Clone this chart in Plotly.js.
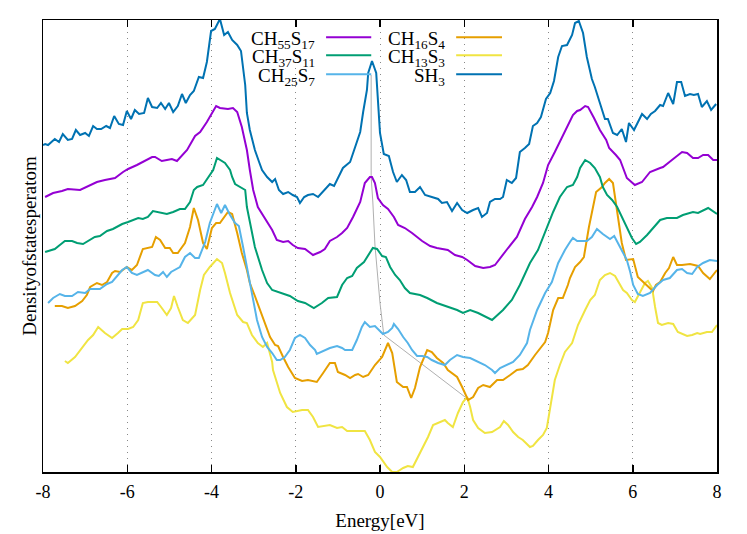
<!DOCTYPE html>
<html>
<head>
<meta charset="utf-8">
<script src="https://cdn.plot.ly/plotly-3.0.1.min.js"></script>
<style>html,body{margin:0;padding:0;background:#fff;}#chart{width:747px;height:534px;}</style>
</head>
<body>
<div id="chart"></div>
<script>
// ---- Data (energy in eV, density of states in arbitrary offset units) ----
const sh3_E = [-8.00,-7.95,-7.88,-7.72,-7.62,-7.53,-7.41,-7.31,-7.22,-7.12,-7.00,-6.91,-6.81,-6.72,-6.62,-6.50,-6.41,-6.31,-6.20,-6.10,-6.01,-5.91,-5.82,-5.72,-5.60,-5.51,-5.41,-5.29,-5.20,-5.10,-5.01,-4.91,-4.80,-4.70,-4.61,-4.51,-4.42,-4.30,-4.20,-4.11,-4.01,-3.92,-3.80,-3.70,-3.61,-3.51,-3.39,-3.30,-3.20,-3.16,-3.09,-2.97,-2.87,-2.80,-2.68,-2.56,-2.49,-2.40,-2.30,-2.18,-2.07,-1.97,-1.90,-1.80,-1.71,-1.59,-1.47,-1.38,-1.28,-1.19,-1.09,-1.00,-0.88,-0.71,-0.59,-0.47,-0.40,-0.31,-0.28,-0.19,-0.09,-0.05,0.00,0.09,0.21,0.31,0.40,0.52,0.62,0.71,0.83,0.95,1.07,1.23,1.38,1.47,1.59,1.71,1.83,1.95,2.07,2.21,2.33,2.42,2.54,2.61,2.73,2.85,2.92,3.01,3.13,3.23,3.32,3.44,3.54,3.63,3.73,3.82,3.94,4.04,4.13,4.23,4.32,4.44,4.56,4.63,4.68,4.72,4.82,4.91,5.03,5.10,5.22,5.34,5.41,5.53,5.63,5.74,5.84,5.91,6.03,6.12,6.22,6.34,6.43,6.53,6.65,6.72,6.84,6.96,7.05,7.15,7.24,7.36,7.45,7.55,7.64,7.76,7.86,7.98];
const sh3_D = [3.27,3.28,3.27,3.33,3.30,3.38,3.32,3.33,3.42,3.37,3.39,3.36,3.46,3.43,3.43,3.46,3.44,3.56,3.48,3.47,3.61,3.53,3.62,3.58,3.59,3.74,3.65,3.64,3.69,3.63,3.69,3.60,3.66,3.78,3.69,3.77,3.81,3.95,3.94,4.10,4.41,4.43,4.53,4.37,4.40,4.32,4.27,4.21,3.87,3.59,3.42,3.22,3.10,3.02,2.95,2.90,2.93,2.82,2.78,2.80,2.77,2.75,2.69,2.75,2.77,2.78,2.75,2.79,2.83,2.88,2.86,2.94,3.04,3.10,3.24,3.40,3.60,3.82,3.99,4.11,3.99,3.75,3.39,3.18,3.16,3.00,2.90,2.97,2.92,2.80,2.80,2.85,2.77,2.75,2.73,2.69,2.70,2.61,2.69,2.62,2.59,2.62,2.64,2.55,2.59,2.70,2.73,2.73,2.75,2.92,2.89,2.94,3.20,3.24,3.28,3.46,3.49,3.55,3.73,3.79,3.91,4.15,4.26,4.27,4.37,4.49,4.50,4.51,4.39,4.15,3.93,3.85,3.69,3.53,3.53,3.39,3.37,3.43,3.30,3.49,3.42,3.49,3.58,3.53,3.58,3.61,3.67,3.66,3.79,3.68,3.90,3.90,3.76,3.78,3.77,3.78,3.65,3.71,3.62,3.68];

const ch55_E = [-7.95,-7.76,-7.55,-7.41,-7.12,-6.88,-6.72,-6.53,-6.29,-6.10,-5.98,-5.77,-5.63,-5.41,-5.34,-5.18,-5.06,-4.94,-4.82,-4.70,-4.58,-4.39,-4.27,-4.11,-3.99,-3.89,-3.80,-3.61,-3.49,-3.39,-3.28,-3.16,-3.09,-3.01,-2.90,-2.73,-2.56,-2.45,-2.30,-2.18,-2.07,-1.95,-1.78,-1.59,-1.42,-1.31,-1.19,-1.02,-0.90,-0.78,-0.64,-0.47,-0.36,-0.24,-0.19,-0.12,-0.05,0.07,0.19,0.33,0.43,0.59,0.76,1.00,1.19,1.35,1.50,1.61,1.78,1.95,2.07,2.26,2.45,2.61,2.73,2.85,3.04,3.25,3.44,3.61,3.73,3.87,3.99,4.15,4.27,4.44,4.58,4.68,4.75,4.87,4.94,5.08,5.22,5.37,5.44,5.60,5.70,5.86,6.05,6.22,6.41,6.65,6.72,6.93,7.17,7.29,7.43,7.55,7.67,7.79,7.91,8.00];
const ch55_D = [2.75,2.79,2.81,2.83,2.82,2.87,2.90,2.92,2.94,3.00,3.03,3.07,3.10,3.15,3.15,3.11,3.12,3.13,3.11,3.17,3.22,3.36,3.40,3.50,3.59,3.66,3.64,3.63,3.64,3.60,3.45,3.22,3.02,2.82,2.65,2.54,2.42,2.32,2.30,2.31,2.27,2.24,2.23,2.17,2.20,2.23,2.31,2.35,2.39,2.44,2.55,2.70,2.89,2.95,2.95,2.89,2.74,2.67,2.63,2.55,2.47,2.44,2.39,2.31,2.26,2.24,2.23,2.22,2.17,2.15,2.12,2.06,2.04,2.05,2.07,2.14,2.24,2.35,2.53,2.65,2.75,2.89,3.07,3.20,3.30,3.44,3.57,3.61,3.62,3.66,3.65,3.54,3.42,3.32,3.24,3.17,3.12,2.94,2.87,2.90,3.00,3.04,3.05,3.12,3.20,3.19,3.14,3.14,3.17,3.17,3.12,3.12];

const ch37_E = [-7.95,-7.72,-7.60,-7.48,-7.31,-7.19,-7.05,-6.93,-6.77,-6.65,-6.48,-6.34,-6.12,-5.98,-5.86,-5.74,-5.63,-5.51,-5.39,-5.27,-5.06,-4.91,-4.75,-4.63,-4.51,-4.42,-4.34,-4.20,-4.08,-3.96,-3.87,-3.68,-3.56,-3.51,-3.44,-3.32,-3.20,-3.16,-3.09,-2.97,-2.80,-2.68,-2.56,-2.37,-2.14,-1.95,-1.78,-1.57,-1.38,-1.23,-1.02,-0.90,-0.78,-0.66,-0.55,-0.38,-0.28,-0.17,-0.07,0.05,0.14,0.24,0.36,0.47,0.59,0.71,0.95,1.12,1.35,1.61,1.83,1.97,2.14,2.33,2.54,2.66,2.92,3.13,3.32,3.56,3.75,3.96,4.11,4.27,4.44,4.58,4.68,4.75,4.87,4.99,5.10,5.22,5.29,5.39,5.51,5.63,5.74,5.86,5.98,6.08,6.17,6.34,6.48,6.65,6.81,7.05,7.19,7.43,7.55,7.72,7.79,8.00];
const ch37_D = [2.20,2.23,2.27,2.31,2.31,2.29,2.28,2.31,2.35,2.36,2.41,2.43,2.48,2.50,2.52,2.54,2.53,2.55,2.61,2.60,2.58,2.60,2.63,2.63,2.70,2.82,2.85,2.87,2.94,3.02,3.14,3.09,3.02,2.95,2.88,2.85,2.82,2.65,2.49,2.25,2.02,1.89,1.82,1.79,1.76,1.71,1.69,1.64,1.69,1.74,1.75,1.87,1.94,1.96,2.04,2.10,2.17,2.24,2.23,2.16,2.15,2.05,1.97,1.92,1.84,1.79,1.77,1.74,1.69,1.65,1.62,1.59,1.62,1.59,1.55,1.52,1.62,1.72,1.87,2.09,2.22,2.45,2.60,2.75,2.85,2.87,2.95,3.04,3.12,3.09,3.04,2.95,2.85,2.77,2.72,2.65,2.55,2.45,2.34,2.28,2.30,2.37,2.44,2.52,2.54,2.54,2.57,2.60,2.59,2.63,2.64,2.58];

const ch25_E = [-7.88,-7.76,-7.60,-7.48,-7.31,-7.17,-7.00,-6.88,-6.65,-6.48,-6.36,-6.24,-6.12,-6.01,-5.89,-5.77,-5.65,-5.51,-5.34,-5.25,-5.15,-5.06,-4.96,-4.87,-4.75,-4.63,-4.51,-4.39,-4.30,-4.15,-4.04,-3.87,-3.77,-3.68,-3.56,-3.44,-3.35,-3.25,-3.13,-3.01,-2.92,-2.80,-2.68,-2.56,-2.45,-2.37,-2.26,-2.14,-2.02,-1.90,-1.78,-1.66,-1.54,-1.50,-1.35,-1.19,-1.02,-0.90,-0.83,-0.66,-0.55,-0.43,-0.36,-0.24,-0.12,-0.02,0.07,0.19,0.29,0.33,0.43,0.55,0.66,0.76,0.88,1.00,1.12,1.23,1.38,1.54,1.66,1.83,1.97,2.14,2.33,2.49,2.66,2.73,2.85,3.01,3.16,3.32,3.49,3.56,3.73,3.92,4.08,4.23,4.39,4.51,4.58,4.68,4.91,5.03,5.15,5.29,5.46,5.56,5.65,5.77,5.86,5.94,6.01,6.12,6.24,6.41,6.58,6.72,6.88,7.05,7.17,7.29,7.41,7.53,7.67,7.83,8.00];
const ch25_D = [1.69,1.74,1.78,1.76,1.76,1.80,1.79,1.83,1.83,1.88,1.90,1.96,2.02,2.05,1.99,1.97,1.99,2.02,1.97,1.96,2.00,1.95,2.00,2.02,2.05,2.15,2.19,2.14,2.14,2.30,2.49,2.68,2.59,2.67,2.57,2.49,2.46,2.25,1.99,1.72,1.52,1.35,1.25,1.19,1.12,1.12,1.15,1.22,1.34,1.37,1.34,1.27,1.22,1.18,1.21,1.24,1.26,1.24,1.22,1.22,1.32,1.45,1.50,1.45,1.46,1.42,1.38,1.40,1.44,1.48,1.43,1.35,1.29,1.22,1.16,1.16,1.15,1.12,1.09,1.07,1.12,1.17,1.15,1.14,1.10,1.07,1.02,0.99,1.04,1.07,1.10,1.17,1.29,1.42,1.62,1.79,1.90,2.09,2.22,2.30,2.34,2.31,2.31,2.35,2.43,2.38,2.33,2.36,2.29,2.20,2.12,2.00,1.87,1.78,1.76,1.79,1.87,1.92,1.94,2.02,2.03,1.99,1.98,2.05,2.09,2.12,2.11];

const ch16_E = [-7.72,-7.55,-7.41,-7.24,-7.07,-6.96,-6.88,-6.72,-6.60,-6.48,-6.36,-6.29,-6.17,-6.05,-6.01,-5.89,-5.77,-5.63,-5.41,-5.32,-5.22,-5.10,-4.99,-4.91,-4.80,-4.75,-4.63,-4.51,-4.42,-4.32,-4.20,-4.11,-3.99,-3.89,-3.80,-3.61,-3.51,-3.39,-3.28,-3.16,-3.09,-2.97,-2.85,-2.73,-2.61,-2.49,-2.42,-2.30,-2.18,-2.02,-1.85,-1.71,-1.50,-1.35,-1.19,-1.07,-1.00,-0.83,-0.71,-0.59,-0.52,-0.40,-0.28,-0.12,0.05,0.19,0.29,0.40,0.55,0.64,0.74,0.83,0.95,1.12,1.23,1.35,1.50,1.61,1.83,1.95,2.09,2.21,2.33,2.45,2.61,2.78,2.92,3.09,3.25,3.39,3.51,3.68,3.80,3.92,3.99,4.11,4.23,4.34,4.46,4.51,4.63,4.75,4.84,4.96,5.13,5.27,5.34,5.44,5.53,5.63,5.74,5.84,6.01,6.12,6.24,6.39,6.48,6.55,6.65,6.77,6.86,6.96,7.05,7.17,7.36,7.55,7.67,7.83,8.00];
const ch16_D = [1.66,1.66,1.64,1.66,1.71,1.77,1.85,1.89,1.87,1.90,1.99,2.01,2.00,2.04,2.05,2.02,2.07,2.23,2.25,2.35,2.32,2.24,2.24,2.19,2.19,2.22,2.29,2.45,2.64,2.52,2.29,2.23,2.44,2.49,2.49,2.60,2.58,2.39,2.19,2.02,1.89,1.76,1.62,1.49,1.35,1.27,1.26,1.15,1.05,0.94,0.91,0.92,0.90,0.99,1.09,1.09,1.00,0.97,0.94,0.97,0.98,0.95,0.97,1.07,1.15,1.29,1.19,0.90,0.85,0.85,0.74,0.84,1.05,1.22,1.20,1.14,1.09,1.02,0.95,0.85,0.72,0.75,0.84,0.87,0.85,0.92,0.92,0.97,1.02,1.03,1.07,1.17,1.24,1.30,1.39,1.62,1.74,1.74,1.87,1.94,2.05,2.10,2.15,2.45,2.80,2.85,2.89,2.93,2.89,2.62,2.29,2.12,2.13,1.95,1.90,1.84,1.81,1.87,1.90,1.99,2.04,2.15,2.07,2.07,2.08,2.06,1.99,1.93,2.02];

const ch13_E = [-7.48,-7.41,-7.24,-7.07,-6.93,-6.81,-6.69,-6.53,-6.36,-6.22,-6.12,-5.98,-5.86,-5.74,-5.63,-5.51,-5.29,-5.18,-5.06,-4.96,-4.89,-4.80,-4.68,-4.56,-4.39,-4.27,-4.18,-4.04,-3.87,-3.75,-3.68,-3.56,-3.39,-3.25,-3.16,-3.04,-2.90,-2.78,-2.68,-2.56,-2.54,-2.37,-2.21,-2.07,-1.85,-1.71,-1.59,-1.47,-1.31,-1.19,-1.02,-0.90,-0.78,-0.47,-0.36,-0.24,-0.12,0.00,0.17,0.29,0.40,0.55,0.66,0.78,0.90,1.02,1.14,1.26,1.42,1.54,1.61,1.73,1.85,1.97,2.07,2.14,2.21,2.33,2.49,2.66,2.85,2.94,3.04,3.16,3.28,3.39,3.56,3.63,3.75,3.87,3.96,4.04,4.15,4.27,4.39,4.56,4.70,4.87,4.99,5.10,5.22,5.34,5.46,5.58,5.67,5.77,5.86,5.98,6.05,6.17,6.29,6.36,6.46,6.53,6.60,6.69,6.84,6.96,7.07,7.29,7.41,7.53,7.60,7.76,7.88,8.00];
const ch13_D = [1.11,1.09,1.15,1.24,1.32,1.37,1.45,1.39,1.34,1.39,1.43,1.43,1.45,1.52,1.69,1.70,1.70,1.64,1.57,1.64,1.76,1.65,1.52,1.49,1.57,1.82,1.97,2.05,2.13,2.09,1.99,1.79,1.57,1.50,1.49,1.37,1.29,1.25,1.29,1.10,1.02,0.79,0.65,0.60,0.62,0.62,0.55,0.45,0.46,0.47,0.44,0.45,0.41,0.41,0.41,0.32,0.20,0.15,0.05,0.00,0.00,0.04,0.06,0.05,0.15,0.25,0.35,0.47,0.50,0.52,0.49,0.45,0.59,0.70,0.75,0.65,0.52,0.44,0.39,0.40,0.45,0.51,0.47,0.40,0.35,0.32,0.25,0.26,0.32,0.37,0.44,0.65,0.92,1.07,1.20,1.29,1.47,1.62,1.72,1.77,1.92,1.97,1.99,1.96,1.90,1.82,1.79,1.72,1.70,1.79,1.89,1.91,1.84,1.65,1.49,1.47,1.49,1.48,1.40,1.36,1.37,1.39,1.38,1.40,1.40,1.47];

// stray thin grey connector line present in the original figure
const grey_E = [-0.21,-0.21,-0.17,-0.12,0.00,0.09,2.02];
const grey_D = [3.97,2.95,2.70,2.27,1.69,1.37,0.75];

const seriesNames = ['CH<sub>55</sub>S<sub>17</sub>','CH<sub>37</sub>S<sub>11</sub>','CH<sub>25</sub>S<sub>7</sub>','CH<sub>16</sub>S<sub>4</sub>','CH<sub>13</sub>S<sub>3</sub>','SH<sub>3</sub>'];
const seriesColors = ['#9400D3','#009E73','#56B4E9','#E69F00','#F0E442','#0072B2'];
const seriesE = [ch55_E, ch37_E, ch25_E, ch16_E, ch13_E, sh3_E];
const seriesD = [ch55_D, ch37_D, ch25_D, ch16_D, ch13_D, sh3_D];
const xTicks = [-8,-6,-4,-2,0,2,4,6,8];

const FONT = '"Liberation Serif", serif';

const traces = [{
  x: grey_E, y: grey_D, type: 'scatter', mode: 'lines',
  line: {color: '#b0b0b0', width: 1}, showlegend: false, hoverinfo: 'skip'
}];
const order = [4,3,2,1,0,5];
order.forEach(i => {
  traces.push({
    x: seriesE[i], y: seriesD[i], type: 'scatter', mode: 'lines', name: seriesNames[i],
    line: {color: seriesColors[i], width: 2}, showlegend: false
  });
});

// gnuplot-style key: text right-aligned followed by a line sample, two columns of three
const keyRows = [0.962, 0.922, 0.880];
const keyCols = [{tx: 0.405, l0: 0.420, l1: 0.487}, {tx: 0.598, l0: 0.613, l1: 0.681}];
const annotations = [];
const shapes = [];
for (let i = 0; i < 6; i++) {
  const c = keyCols[Math.floor(i / 3)], r = keyRows[i % 3];
  annotations.push({xref: 'paper', yref: 'paper', x: c.tx, y: r, xanchor: 'right', yanchor: 'middle',
    text: seriesNames[i], showarrow: false, font: {family: FONT, size: 19, color: '#000'}, yshift: -3,
    borderpad: 0});
  shapes.push({type: 'line', xref: 'paper', yref: 'paper', x0: c.l0, x1: c.l1, y0: r, y1: r,
    line: {color: seriesColors[i], width: 2}});
}

const layout = {
  width: 747, height: 534,
  margin: {l: 43, r: 30, t: 20, b: 62},
  paper_bgcolor: '#fff', plot_bgcolor: '#fff',
  font: {family: FONT, size: 18, color: '#000'},
  xaxis: {
    range: [-8, 8], tickvals: xTicks, ticktext: xTicks.map(String),
    ticks: 'inside', ticklen: 7, tickwidth: 1.5, tickcolor: '#000',
    showline: true, linecolor: '#000', linewidth: 1.5, mirror: 'ticks',
    showgrid: true, gridcolor: '#888', gridwidth: 1, griddash: '1px,5px',
    zeroline: false, tickfont: {family: FONT, size: 18, color: '#000'},
    ticklabelstandoff: 3,
    title: {text: 'Energy[eV]', font: {family: FONT, size: 19, color: '#000'}, standoff: 12}
  },
  yaxis: {
    range: [0, 4.52], showticklabels: false, ticks: '', showgrid: false, zeroline: false,
    showline: true, linecolor: '#000', linewidth: 1.5, mirror: true,
    title: {text: 'Densityofstatesperatom', font: {family: FONT, size: 19, color: '#000'}, standoff: 0}
  },
  annotations: annotations,
  shapes: shapes
};

Plotly.newPlot('chart', traces, layout, {displayModeBar: false, staticPlot: true});
</script>
</body>
</html>
